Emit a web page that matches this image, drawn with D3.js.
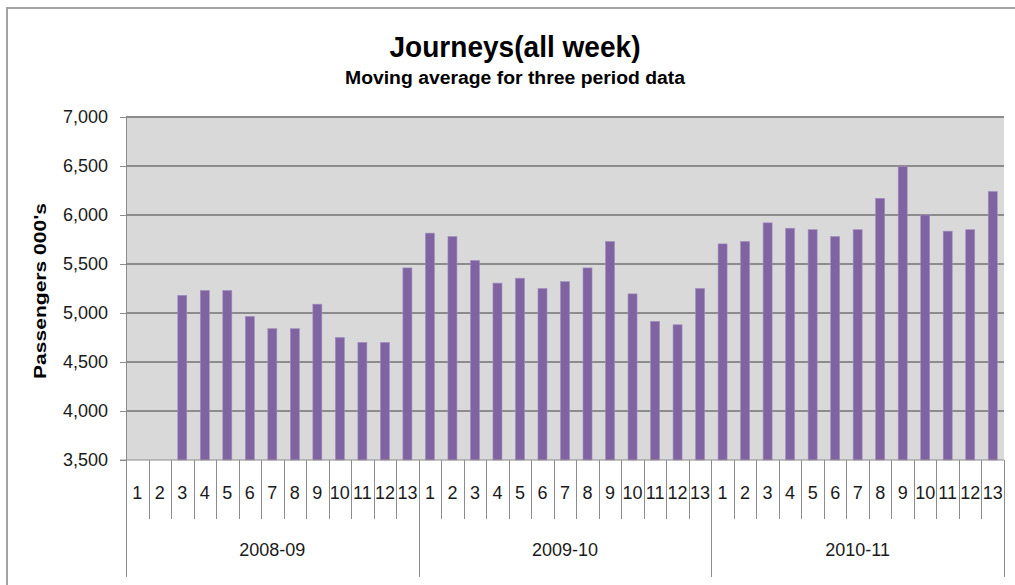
<!DOCTYPE html>
<html>
<head>
<meta charset="utf-8">
<script src="https://cdn.jsdelivr.net/npm/d3@7"></script>
<style>
  body { margin: 0; background: #fff; }
  svg { display: block; }
  text { font-family: "Liberation Sans", Arial, sans-serif; }
</style>
</head>
<body>
<svg width="1015" height="585"></svg>
<script>
// data (passengers, 000's, 3-period moving average)
var years = ["2008-09", "2009-10", "2010-11"];
var periods = ["1", "2", "3", "4", "5", "6", "7", "8", "9", "10", "11", "12", "13"];
var values0809 = [null, null, 5180, 5230, 5230, 4965, 4840, 4840, 5090, 4750, 4700, 4700, 5460];
var values0910 = [5815, 5780, 5535, 5305, 5355, 5250, 5320, 5460, 5730, 5195, 4915, 4880, 5250];
var values1011 = [5705, 5730, 5920, 5865, 5850, 5780, 5850, 6170, 6495, 6000, 5835, 5850, 6240];
var yTicks = [3500, 4000, 4500, 5000, 5500, 6000, 6500, 7000];

(function() {
  var svg = d3.select("svg");

  // plot area edges
  var pLeft = 126, pRight = 1004, pTop = 117, pBottom = 460;

  // flatten into one row per bar
  var series = [values0809, values0910, values1011];
  var rows = [];
  years.forEach(function(yr, i) {
    periods.forEach(function(p, j) {
      rows.push({ year: yr, period: p, key: yr + "|" + p, value: series[i][j] });
    });
  });

  var x = d3.scaleBand()
    .domain(rows.map(function(d) { return d.key; }))
    .range([pLeft, pRight])
    .padding(0);

  var y = d3.scaleLinear()
    .domain([3500, 7000])
    .range([pBottom, pTop]);

  var bw = x.bandwidth();

  // outer chart frame (only top + left visible in the original)
  svg.append("path")
    .attr("d", "M7,585V8H1015")
    .attr("fill", "none")
    .attr("stroke", "#a3a3a3")
    .attr("stroke-width", 2);

  // plot area
  svg.append("rect")
    .attr("x", pLeft).attr("y", pTop)
    .attr("width", pRight - pLeft).attr("height", pBottom - pTop)
    .attr("fill", "#d9d9d9");

  // gridlines
  svg.append("g")
    .selectAll("line")
    .data(yTicks.slice(1))
    .enter().append("line")
    .attr("x1", pLeft).attr("x2", pRight)
    .attr("y1", function(d) { return y(d); })
    .attr("y2", function(d) { return y(d); })
    .attr("stroke", "#8c8c8c")
    .attr("stroke-width", 2);

  // y axis
  var yAxis = svg.append("g")
    .attr("transform", "translate(" + pLeft + ",0)")
    .call(d3.axisLeft(y).tickValues(yTicks).tickFormat(d3.format(",")).tickSize(6).tickPadding(12));
  yAxis.select(".domain").attr("stroke", "#8c8c8c");
  yAxis.selectAll(".tick line").attr("stroke", "#8c8c8c");
  yAxis.selectAll("text")
    .attr("font-size", 18)
    .attr("fill", "#1a1a1a")
    .style("font-family", "'Liberation Sans', Arial, sans-serif");

  // bars
  svg.append("g")
    .selectAll("rect")
    .data(rows.filter(function(d) { return d.value != null; }))
    .enter().append("rect")
    .attr("x", function(d) { return x(d.key) + bw * 0.3; })
    .attr("width", bw * 0.4)
    .attr("y", function(d) { return y(d.value); })
    .attr("height", function(d) { return y(3500) - y(d.value); })
    .attr("fill", "#8064a2")
    .attr("stroke", "#a18ec0")
    .attr("stroke-width", 0.6);

  // x axis: baseline, period separators, year separators
  var xg = svg.append("g");
  xg.append("line")
    .attr("x1", pLeft - 6).attr("x2", pRight)
    .attr("y1", pBottom).attr("y2", pBottom)
    .attr("stroke", "#8c8c8c");

  xg.selectAll(".sep")
    .data(rows)
    .enter().append("line")
    .attr("class", "sep")
    .attr("x1", function(d) { return Math.round(x(d.key)) + 0.5; })
    .attr("x2", function(d) { return Math.round(x(d.key)) + 0.5; })
    .attr("y1", pBottom)
    .attr("y2", function(d) { return d.period === "1" ? 577 : 519; })
    .attr("stroke", "#8c8c8c");

  xg.append("line")
    .attr("x1", pRight + 0.5).attr("x2", pRight + 0.5)
    .attr("y1", pBottom).attr("y2", 577)
    .attr("stroke", "#8c8c8c");

  xg.selectAll(".per")
    .data(rows)
    .enter().append("text")
    .attr("class", "per")
    .attr("x", function(d) { return x(d.key) + bw / 2; })
    .attr("y", 499)
    .attr("text-anchor", "middle")
    .attr("font-size", 18)
    .attr("fill", "#1a1a1a")
    .text(function(d) { return d.period; });

  xg.selectAll(".yr")
    .data(years)
    .enter().append("text")
    .attr("class", "yr")
    .attr("x", function(d) {
      return (x(d + "|1") + x(d + "|13") + bw) / 2;
    })
    .attr("y", 556)
    .attr("text-anchor", "middle")
    .attr("font-size", 18)
    .attr("fill", "#1a1a1a")
    .text(function(d) { return d; });

  // titles
  svg.append("text")
    .attr("x", 515).attr("y", 57)
    .attr("text-anchor", "middle")
    .attr("font-size", 29)
    .attr("font-weight", "bold")
    .attr("textLength", 251)
    .attr("lengthAdjust", "spacingAndGlyphs")
    .style("font-family", "'Liberation Sans Narrow', 'Arial Narrow', 'Liberation Sans', sans-serif")
    .text("Journeys(all week)");

  svg.append("text")
    .attr("x", 515).attr("y", 84)
    .attr("text-anchor", "middle")
    .attr("font-size", 18)
    .attr("font-weight", "bold")
    .attr("textLength", 340)
    .attr("lengthAdjust", "spacingAndGlyphs")
    .style("font-family", "'Liberation Sans Narrow', 'Arial Narrow', 'Liberation Sans', sans-serif")
    .text("Moving average for three period data");

  svg.append("text")
    .attr("transform", "translate(46,291) rotate(-90)")
    .attr("text-anchor", "middle")
    .attr("font-size", 16)
    .attr("font-weight", "bold")
    .attr("textLength", 176)
    .attr("lengthAdjust", "spacingAndGlyphs")
    .text("Passengers 000's");
})();
</script>
</body>
</html>
